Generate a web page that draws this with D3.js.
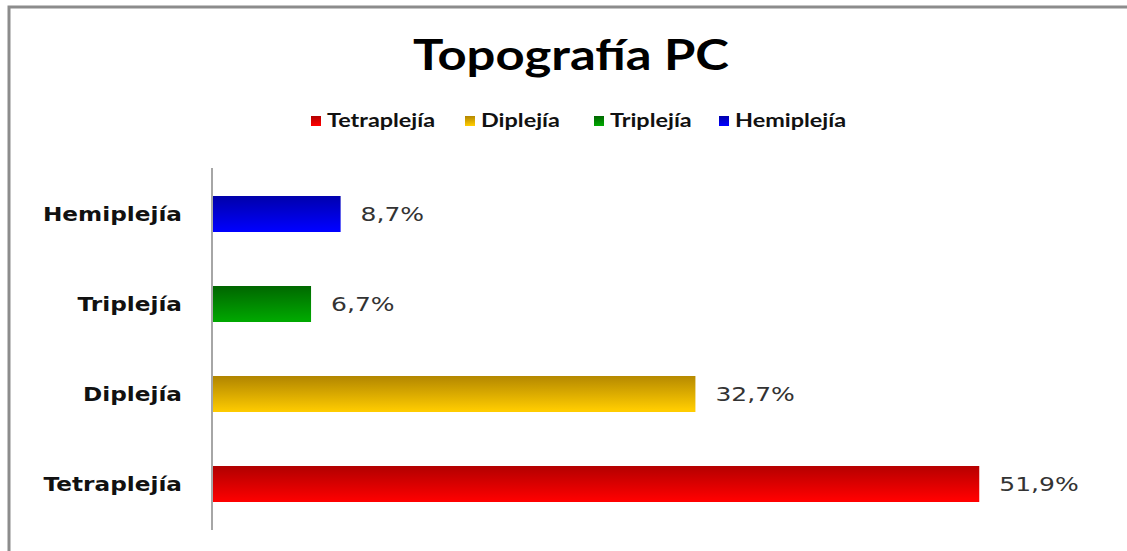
<!DOCTYPE html>
<html>

<head>
    <style>
        body { margin: 0; background: #fff; }
        .catLabel { font-family: "DejaVu Sans", Verdana, sans-serif; font-weight: bold; font-size: 19px; fill: #111; text-anchor: end; }
        .valLabel { font-family: "DejaVu Sans", Verdana, sans-serif; font-size: 20px; fill: #333; }
        .legendText { font-family: Lato, Calibri, sans-serif; font-weight: bold; font-size: 18px; fill: #111; }
    </style>
    <script src="https://d3js.org/d3.v7.min.js"></script>
</head>

<body>

    <svg width="1127" height="551"></svg>

    <script>

        // data
        const categories = ["Hemiplejía", "Triplejía", "Diplejía", "Tetraplejía"]
        const values = [8.7, 6.7, 32.7, 51.9]
        const valueLabels = ["8,7%", "6,7%", "32,7%", "51,9%"]
        const legendOrder = ["Tetraplejía", "Diplejía", "Triplejía", "Hemiplejía"]
        const darkColors = ["#0000a8", "#006400", "#b08400", "#b00000"]
        const brightColors = ["#0000ff", "#00a800", "#ffcc00", "#ff0000"]

        const svg = d3.select("svg")

        // the original picture is stretched sideways, so widen the glyphs
        function stretch(sel, f) {
            sel.each(function () {
                const w = this.getComputedTextLength()
                d3.select(this)
                    .attr("textLength", w * f)
                    .attr("lengthAdjust", "spacingAndGlyphs")
            })
        }

        // frame (cropped chart area: only top and left edges visible)
        svg.append("path")
            .attr("d", d3.line()([[9, 551], [9, 7], [1127, 7]]))
            .attr("fill", "none")
            .attr("stroke", "#8c8c8c")
            .attr("stroke-width", 3)

        // title
        svg.append("text")
            .attr("x", 571)
            .attr("y", 70)
            .attr("text-anchor", "middle")
            .style("font-family", "Lato, Calibri, sans-serif")
            .style("font-weight", "bold")
            .style("font-size", "42px")
            .style("fill", "#000")
            .text("Topografía PC")
            .call(stretch, 1.21)

        const x = d3.scaleLinear().domain([0, 60]).range([212, 1099])
        const y = d3.scaleBand().domain(categories).range([169, 529]).paddingInner(0.6).paddingOuter(0.3)

        const defs = svg.append("defs")
        categories.forEach((c, i) => {
            const g = defs.append("linearGradient")
                .attr("id", "grad" + i)
                .attr("x1", "0%").attr("y1", "0%")
                .attr("x2", "8%").attr("y2", "100%")
            g.append("stop").attr("offset", "0%").attr("stop-color", darkColors[i])
            g.append("stop").attr("offset", "100%").attr("stop-color", brightColors[i])
        })

        // bars
        svg.selectAll(".bar")
            .data(categories)
            .enter()
            .append("rect")
            .attr("class", "bar")
            .attr("x", x(0))
            .attr("y", d => y(d))
            .attr("width", (d, i) => x(values[i]) - x(0))
            .attr("height", y.bandwidth())
            .attr("fill", (d, i) => "url(#grad" + i + ")")

        // value labels
        svg.selectAll(".valLabel")
            .data(categories)
            .enter()
            .append("text")
            .attr("class", "valLabel")
            .attr("x", (d, i) => x(values[i]) + 20)
            .attr("y", d => y(d) + y.bandwidth() / 2)
            .attr("dy", "0.36em")
            .text((d, i) => valueLabels[i])
            .call(stretch, 1.25)

        // axis line
        svg.append("line")
            .attr("x1", x(0)).attr("x2", x(0))
            .attr("y1", 168).attr("y2", 530)
            .attr("stroke", "#a6a6a6")
            .attr("stroke-width", 2)

        // category labels
        svg.selectAll(".catLabel")
            .data(categories)
            .enter()
            .append("text")
            .attr("class", "catLabel")
            .attr("x", 182)
            .attr("y", d => y(d) + y.bandwidth() / 2)
            .attr("dy", "0.36em")
            .text(d => d)
            .call(stretch, 1.22)

        // legend
        const legendX = [311, 465, 594, 719]
        const legend = svg.append("g")
        legendOrder.forEach((name, k) => {
            const i = categories.indexOf(name)
            const item = legend.append("g").attr("transform", `translate(${legendX[k]},121)`)
            item.append("rect")
                .attr("x", 0).attr("y", -5)
                .attr("width", 10).attr("height", 10)
                .attr("fill", "url(#grad" + i + ")")
            item.append("text")
                .attr("class", "legendText")
                .attr("x", 16)
                .attr("dy", "0.35em")
                .text(name)
                .call(stretch, 1.3)
        })

    </script>
</body>

</html>
